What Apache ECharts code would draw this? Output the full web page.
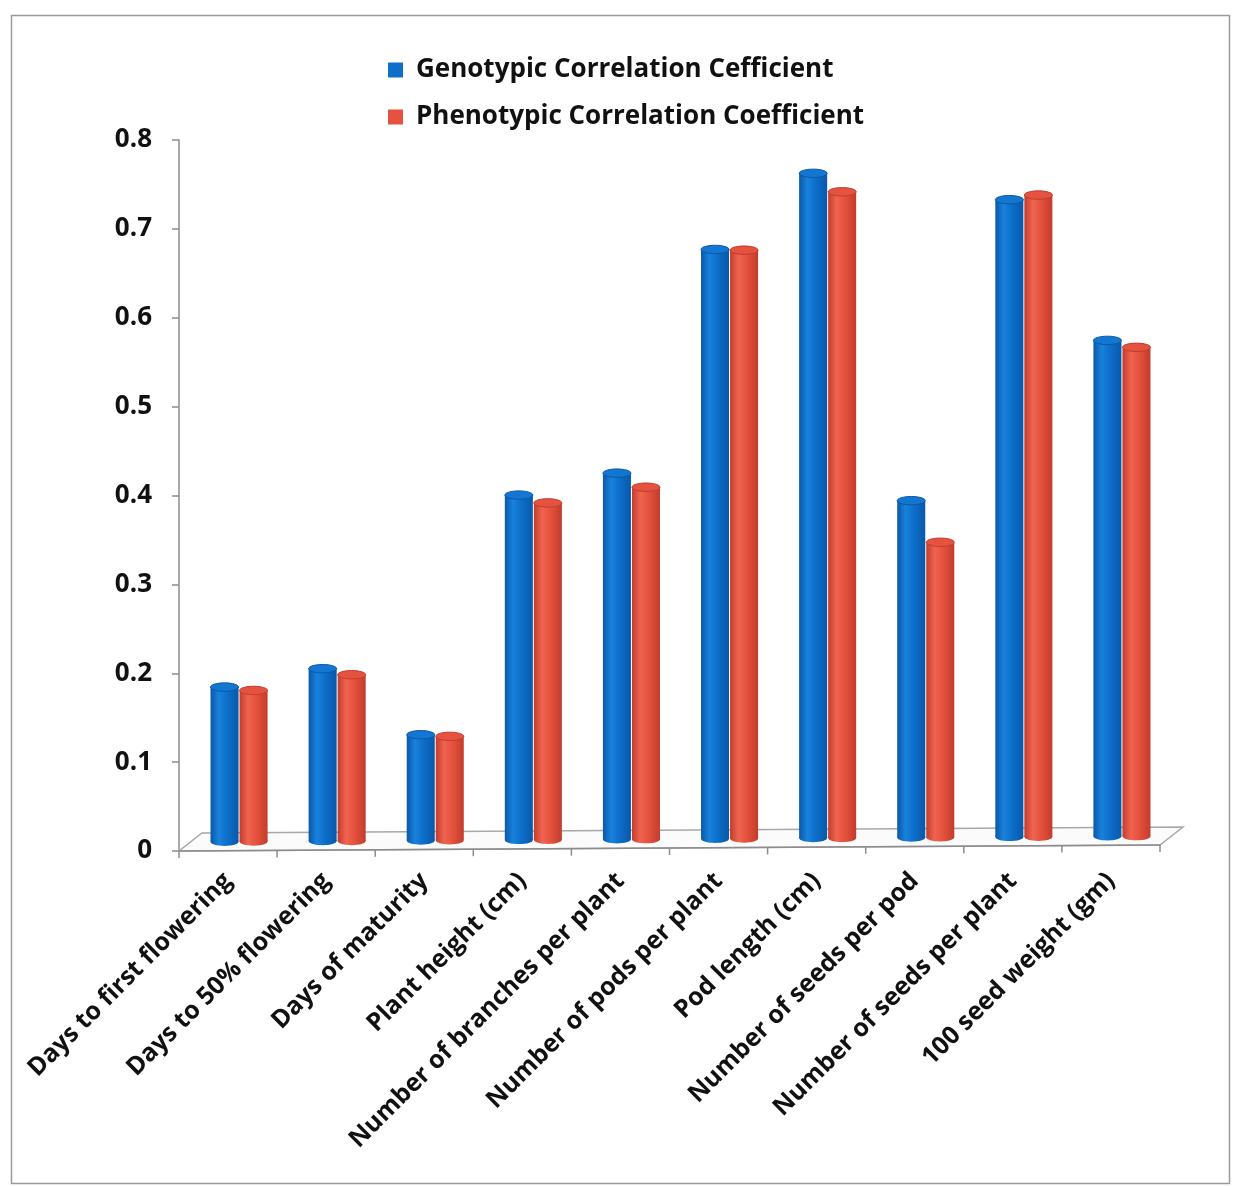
<!DOCTYPE html>
<html>
<head>
<meta charset="utf-8">
<script src="https://cdn.jsdelivr.net/npm/echarts@6/dist/echarts.min.js"></script>
<style>
  html, body { margin: 0; padding: 0; background: #ffffff; }
  #chart { width: 1234px; height: 1187px; }
</style>
</head>
<body>
<div id="chart"></div>
<script>
// Traits on the category axis
const categories = [
  'Days to first flowering',
  'Days to 50% flowering',
  'Days of maturity',
  'Plant height (cm)',
  'Number of branches per plant',
  'Number of pods per plant',
  'Pod length (cm)',
  'Number of seeds per pod',
  'Number of seeds per plant',
  '100 seed weight (gm)'
];

// Correlation coefficients with seed yield
const genotypic  = [0.174, 0.194, 0.119, 0.388, 0.412, 0.663, 0.748, 0.379, 0.717, 0.558];
const phenotypic = [0.170, 0.187, 0.117, 0.379, 0.396, 0.662, 0.727, 0.332, 0.722, 0.550];

const seriesNames = ['Genotypic Correlation Cefficient', 'Phenotypic Correlation Coefficient'];

// Value axis range
const yMin = 0, yMax = 0.8, yStep = 0.1;

// Pseudo-3D look: floor depth and a slight rotation of the floor
const DEPTH_DX = 23, DEPTH_DY = -18;
const TILT = -6 / 980;
const FONT = '"Open Sans", Lato, sans-serif';

const chart = echarts.init(document.getElementById('chart'), null, { renderer: 'canvas' });

function sideGradient(dark, mid, light) {
  return new echarts.graphic.LinearGradient(0, 0, 1, 0, [
    { offset: 0, color: dark },
    { offset: 0.3, color: light },
    { offset: 0.6, color: mid },
    { offset: 1, color: dark }
  ]);
}

// Cylinder renderer: body + rounded bottom + elliptical cap
function cylinder(offsetFrac, widthFrac, pal) {
  return function (params, api) {
    const i = api.value(0), v = api.value(1);
    const top = api.coord([i, v]);
    const base = api.coord([i, 0]);
    const band = api.size([1, 0])[0];
    const gridLeft = params.coordSys.x;
    const w = band * widthFrac;
    const cx = top[0] + band * offsetFrac + DEPTH_DX / 2;
    const tilt = (cx - gridLeft) * TILT;
    const yTop = top[1] + DEPTH_DY / 2 + tilt;
    const yBase = base[1] + DEPTH_DY / 2 + tilt;
    const ry = w * 0.15;
    const fill = sideGradient(pal.dark, pal.mid, pal.light);
    return {
      type: 'group',
      children: [
        { type: 'ellipse', shape: { cx: cx, cy: yBase, rx: w / 2, ry: ry }, style: { fill: fill } },
        { type: 'rect', shape: { x: cx - w / 2, y: yTop, width: w, height: yBase - yTop }, style: { fill: fill } },
        { type: 'ellipse', shape: { cx: cx, cy: yTop, rx: w / 2, ry: ry },
          style: { fill: pal.cap, stroke: pal.dark, lineWidth: 1 } }
      ]
    };
  };
}

// Floor plane and category ticks drawn along the tilted front edge
function floor(params, api) {
  const first = api.coord([0, yMin]);
  const band = api.size([1, 0])[0];
  const x0 = first[0] - band / 2;
  const y0 = first[1];
  const n = categories.length;
  const x1 = x0 + n * band;
  const y1 = y0 + (x1 - x0) * TILT;
  const children = [
    { type: 'polygon',
      shape: { points: [[x0, y0], [x1, y1], [x1 + DEPTH_DX, y1 + DEPTH_DY], [x0 + DEPTH_DX, y0 + DEPTH_DY]] },
      style: { fill: '#fbfbfb', stroke: '#a8a8a8', lineWidth: 1.5 } },
    { type: 'line', shape: { x1: x0, y1: y0, x2: x1, y2: y1 }, style: { stroke: '#8c8c8c', lineWidth: 1.5 } }
  ];
  for (let k = 0; k <= n; k++) {
    const xk = x0 + k * band;
    const yk = y0 + (xk - x0) * TILT;
    children.push({ type: 'line', shape: { x1: xk, y1: yk, x2: xk, y2: yk + 7 },
      style: { stroke: '#8c8c8c', lineWidth: 1.5 } });
  }
  return { type: 'group', children: children };
}

const blue = { dark: '#0a58a8', mid: '#0c6ec9', light: '#1982dc', cap: '#1376d0' };
const red  = { dark: '#c23c2c', mid: '#e4513d', light: '#ef6450', cap: '#e5523f' };

chart.setOption({
  backgroundColor: '#ffffff',
  animation: false,
  graphic: [{
    type: 'rect', left: 9, top: 13,
    shape: { width: 1218, height: 1168 },
    style: { fill: 'none', stroke: '#9a9a9a', lineWidth: 1.5 },
    silent: true
  }],
  legend: {
    orient: 'vertical',
    left: 383, top: 52,
    itemWidth: 15, itemHeight: 15, itemGap: 21,
    icon: 'rect',
    data: seriesNames,
    textStyle: { fontFamily: FONT, fontSize: 26, fontWeight: 'bold', color: '#111111', padding: [0, 0, 0, 8] }
  },
  grid: { left: 179, right: 74, top: 140, bottom: 336, containLabel: false },
  xAxis: {
    type: 'category',
    data: categories,
    axisLine: { show: false },
    axisTick: { show: false },
    axisLabel: {
      interval: 0, rotate: 45, margin: 26,
      fontFamily: FONT, fontSize: 25, fontWeight: 'bold', color: '#111111'
    }
  },
  yAxis: {
    type: 'value',
    min: yMin, max: yMax, interval: yStep,
    axisLine: { show: true, lineStyle: { color: '#8c8c8c', width: 1.5 } },
    axisTick: { show: true, length: 7, lineStyle: { color: '#8c8c8c', width: 1.5 } },
    splitLine: { show: false },
    axisLabel: { margin: 27, fontFamily: FONT, fontSize: 26, fontWeight: 'bold', color: '#111111' }
  },
  series: [
    { type: 'custom', name: 'floor', silent: true, clip: false, z: 1,
      data: [[0, 0]], renderItem: floor },
    { type: 'custom', name: seriesNames[0], clip: false, z: 3,
      itemStyle: { color: '#0f6fc8' },
      data: genotypic.map((v, i) => [i, v]),
      renderItem: cylinder(-15 / 98, 28 / 98, blue) },
    { type: 'custom', name: seriesNames[1], clip: false, z: 3,
      itemStyle: { color: '#e5523f' },
      data: phenotypic.map((v, i) => [i, v]),
      renderItem: cylinder(14 / 98, 28 / 98, red) }
  ]
});
</script>
</body>
</html>
